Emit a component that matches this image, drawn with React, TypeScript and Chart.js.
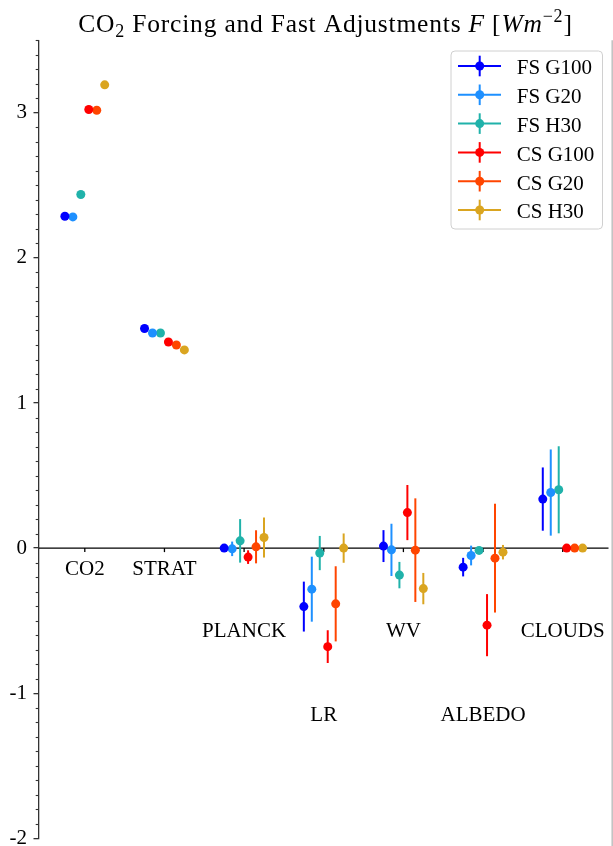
import React, { useEffect, useRef } from 'react';
import { Chart, registerables } from 'chart.js';

Chart.register(...registerables);

const categories = ['CO2', 'STRAT', 'PLANCK', 'LR', 'WV', 'ALBEDO', 'CLOUDS'];
const labelRows = [0, 0, 1, 2, 1, 2, 1];

const seriesNames = ['FS G100', 'FS G20', 'FS H30', 'CS G100', 'CS G20', 'CS H30'];
const seriesColors = ['#0000ff', '#1e90ff', '#20b2aa', '#ff0000', '#ff4500', '#daa520'];
const seriesOffsets = [-0.25, -0.15, -0.05, 0.05, 0.15, 0.25];

const fsG100 = [2.287, 1.514, 0.0, -0.403, 0.014, -0.131, 0.338];
const fsG100Err = [0, 0, 0.0, 0.172, 0.11, 0.064, 0.218];
const fsG20 = [2.283, 1.483, -0.005, -0.283, -0.012, -0.051, 0.383];
const fsG20Err = [0, 0, 0.05, 0.224, 0.18, 0.068, 0.297];
const fsH30 = [2.437, 1.483, 0.05, -0.034, -0.186, -0.016, 0.402];
const fsH30Err = [0, 0, 0.15, 0.118, 0.091, 0.02, 0.3];
const csG100 = [3.023, 1.421, -0.062, -0.679, 0.245, -0.531, 0.0];
const csG100Err = [0, 0, 0.047, 0.113, 0.19, 0.214, 0];
const csG20 = [3.018, 1.4, 0.009, -0.384, -0.014, -0.069, 0.0];
const csG20Err = [0, 0, 0.114, 0.259, 0.357, 0.375, 0];
const csH30 = [3.193, 1.366, 0.073, 0.0, -0.279, -0.028, 0.0];
const csH30Err = [0, 0, 0.138, 0.101, 0.108, 0.05, 0];

const seriesValues = [fsG100, fsG20, fsH30, csG100, csG20, csH30];
const seriesErrors = [fsG100Err, fsG20Err, fsH30Err, csG100Err, csG20Err, csH30Err];

const yTicks = [-2, -1, 0, 1, 2, 3];
const yTickLabels = ['-2', '-1', '0', '1', '2', '3'];

const FONT = "'Liberation Serif', 'Times New Roman', serif";

const overlayPlugin = {
  id: 'overlay',
  beforeDatasetsDraw(chart: any) {
    const ctx = chart.ctx;
    const xs = chart.scales.x;
    const ys = chart.scales.y;
    const area = chart.chartArea;
    ctx.save();
    // minor ticks
    ctx.strokeStyle = '#333';
    ctx.lineWidth = 1.1;
    for (let k = -20; k <= 35; k++) {
      if (k % 10 === 0) continue;
      const y = Math.round(ys.getPixelForValue(k / 10)) + 0.5;
      ctx.beginPath();
      ctx.moveTo(area.left - 3.3, y);
      ctx.lineTo(area.left, y);
      ctx.stroke();
    }
    // zero line
    const y0 = ys.getPixelForValue(0);
    ctx.strokeStyle = '#000';
    ctx.lineWidth = 1.3;
    ctx.beginPath();
    ctx.moveTo(area.left, y0);
    ctx.lineTo(area.right, y0);
    ctx.stroke();
    // category ticks
    categories.forEach((_, j) => {
      const x = xs.getPixelForValue(j);
      ctx.beginPath();
      ctx.moveTo(x, y0);
      ctx.lineTo(x, y0 + 4);
      ctx.stroke();
    });
    // error bars
    ctx.lineWidth = 2;
    seriesValues.forEach((vals, i) => {
      ctx.strokeStyle = seriesColors[i];
      vals.forEach((v, j) => {
        const e = seriesErrors[i][j];
        if (!e) return;
        const x = xs.getPixelForValue(j + seriesOffsets[i]);
        ctx.beginPath();
        ctx.moveTo(x, ys.getPixelForValue(v + e));
        ctx.lineTo(x, ys.getPixelForValue(v - e));
        ctx.stroke();
      });
    });
    // category labels
    const rowOffsets = [26.7, 89, 172.7];
    ctx.fillStyle = '#000';
    ctx.font = `21px ${FONT}`;
    ctx.textAlign = 'center';
    ctx.textBaseline = 'alphabetic';
    categories.forEach((c, j) => {
      const x = xs.getPixelForValue(j);
      ctx.fillText(c, x, y0 + rowOffsets[labelRows[j]]);
    });
    ctx.restore();
  },
  afterDraw(chart: any) {
    const ctx = chart.ctx;
    const area = chart.chartArea;
    ctx.save();
    // right edge line
    ctx.strokeStyle = '#c0c0c0';
    ctx.lineWidth = 1.5;
    ctx.beginPath();
    ctx.moveTo(612.2, area.top);
    ctx.lineTo(612.2, 846);
    ctx.stroke();

    // title
    const big = 25.5;
    const small = 18;
    const parts: { t: string; f: string; dy: number }[] = [
      { t: 'CO', f: `${big}px ${FONT}`, dy: 0 },
      { t: '2', f: `${small}px ${FONT}`, dy: 5 },
      { t: ' Forcing and Fast Adjustments ', f: `${big}px ${FONT}`, dy: 0 },
      { t: 'F', f: `italic ${big}px ${FONT}`, dy: 0 },
      { t: ' [', f: `${big}px ${FONT}`, dy: 0 },
      { t: 'Wm', f: `italic ${big}px ${FONT}`, dy: 0 },
      { t: '\u22122', f: `${small}px ${FONT}`, dy: -10 },
      { t: ']', f: `${big}px ${FONT}`, dy: 0 },
    ];
    const spacing = 0.8;
    let total = 0;
    const widths = parts.map((p) => {
      ctx.font = p.f;
      const w = ctx.measureText(p.t).width + spacing * p.t.length;
      total += w;
      return w;
    });
    let x = 325.5 - total / 2;
    ctx.fillStyle = '#000';
    ctx.textAlign = 'left';
    ctx.textBaseline = 'alphabetic';
    parts.forEach((p, i) => {
      ctx.font = p.f;
      let cx = x;
      for (const ch of p.t) {
        ctx.fillText(ch, cx, 31.7 + p.dy);
        cx += ctx.measureText(ch).width + spacing;
      }
      x += widths[i];
    });

    // legend
    const bx = 451, by = 51, bw = 151.5, bh = 178, r = 4;
    ctx.fillStyle = 'rgba(255,255,255,0.9)';
    ctx.strokeStyle = '#d0d0d0';
    ctx.lineWidth = 1;
    ctx.beginPath();
    ctx.moveTo(bx + r, by);
    ctx.lineTo(bx + bw - r, by);
    ctx.quadraticCurveTo(bx + bw, by, bx + bw, by + r);
    ctx.lineTo(bx + bw, by + bh - r);
    ctx.quadraticCurveTo(bx + bw, by + bh, bx + bw - r, by + bh);
    ctx.lineTo(bx + r, by + bh);
    ctx.quadraticCurveTo(bx, by + bh, bx, by + bh - r);
    ctx.lineTo(bx, by + r);
    ctx.quadraticCurveTo(bx, by, bx + r, by);
    ctx.closePath();
    ctx.fill();
    ctx.stroke();
    seriesNames.forEach((name, i) => {
      const ry = 66 + i * 28.8;
      const c = seriesColors[i];
      ctx.strokeStyle = c;
      ctx.lineWidth = 2;
      ctx.beginPath();
      ctx.moveTo(458, ry);
      ctx.lineTo(501, ry);
      ctx.stroke();
      ctx.beginPath();
      ctx.moveTo(479.7, ry - 10.3);
      ctx.lineTo(479.7, ry + 10.3);
      ctx.stroke();
      ctx.fillStyle = c;
      ctx.beginPath();
      ctx.arc(479.7, ry, 4.5, 0, Math.PI * 2);
      ctx.fill();
      ctx.fillStyle = '#000';
      ctx.font = `21px ${FONT}`;
      ctx.textAlign = 'left';
      ctx.fillText(name, 516.7, ry + 8.3);
    });
    ctx.restore();
  },
};

export default function App() {
  const ref = useRef<HTMLCanvasElement | null>(null);
  useEffect(() => {
    if (!ref.current) return;
    const chart = new Chart(ref.current, {
      type: 'scatter',
      data: {
        datasets: seriesNames.map((name, i) => ({
          label: name,
          data: seriesValues[i].map((v, j) => ({ x: j + seriesOffsets[i], y: v })),
          backgroundColor: seriesColors[i],
          borderColor: seriesColors[i],
          pointRadius: 4.5,
          pointHoverRadius: 4.5,
          pointBorderWidth: 0,
        })),
      },
      options: {
        animation: false,
        responsive: false,
        devicePixelRatio: 1,
        events: [],
        layout: { padding: { top: 40.3, right: 0, bottom: 7.7, left: 0 } },
        plugins: {
          legend: { display: false },
          tooltip: { enabled: false },
          title: { display: false },
        },
        scales: {
          x: { type: 'linear', min: -0.575, max: 6.575, display: false },
          y: {
            type: 'linear',
            min: -2,
            max: 3.5,
            afterFit: (s: any) => {
              s.width = 39;
              s.paddingTop = 0;
              s.paddingBottom = 0;
            },
            afterBuildTicks: (s: any) => {
              s.ticks = yTicks.map((v) => ({ value: v }));
            },
            border: { display: true, color: '#333', width: 1.3 },
            grid: {
              display: true,
              drawOnChartArea: false,
              drawTicks: true,
              tickLength: 5.5,
              color: '#333',
              lineWidth: 1.3,
            },
            ticks: {
              font: { family: FONT, size: 21 },
              color: '#000',
              padding: 6.5,
              callback: (v: any) => {
                const idx = yTicks.indexOf(Number(v));
                return idx >= 0 ? yTickLabels[idx] : '';
              },
            },
          },
        },
      },
      plugins: [overlayPlugin],
    } as any);
    return () => chart.destroy();
  }, []);
  return (
    <div style={{ position: 'absolute', left: 0, top: 0, width: 613, height: 846, background: '#fff' }}>
      <canvas ref={ref} width={613} height={846} style={{ display: 'block' }} />
    </div>
  );
}
